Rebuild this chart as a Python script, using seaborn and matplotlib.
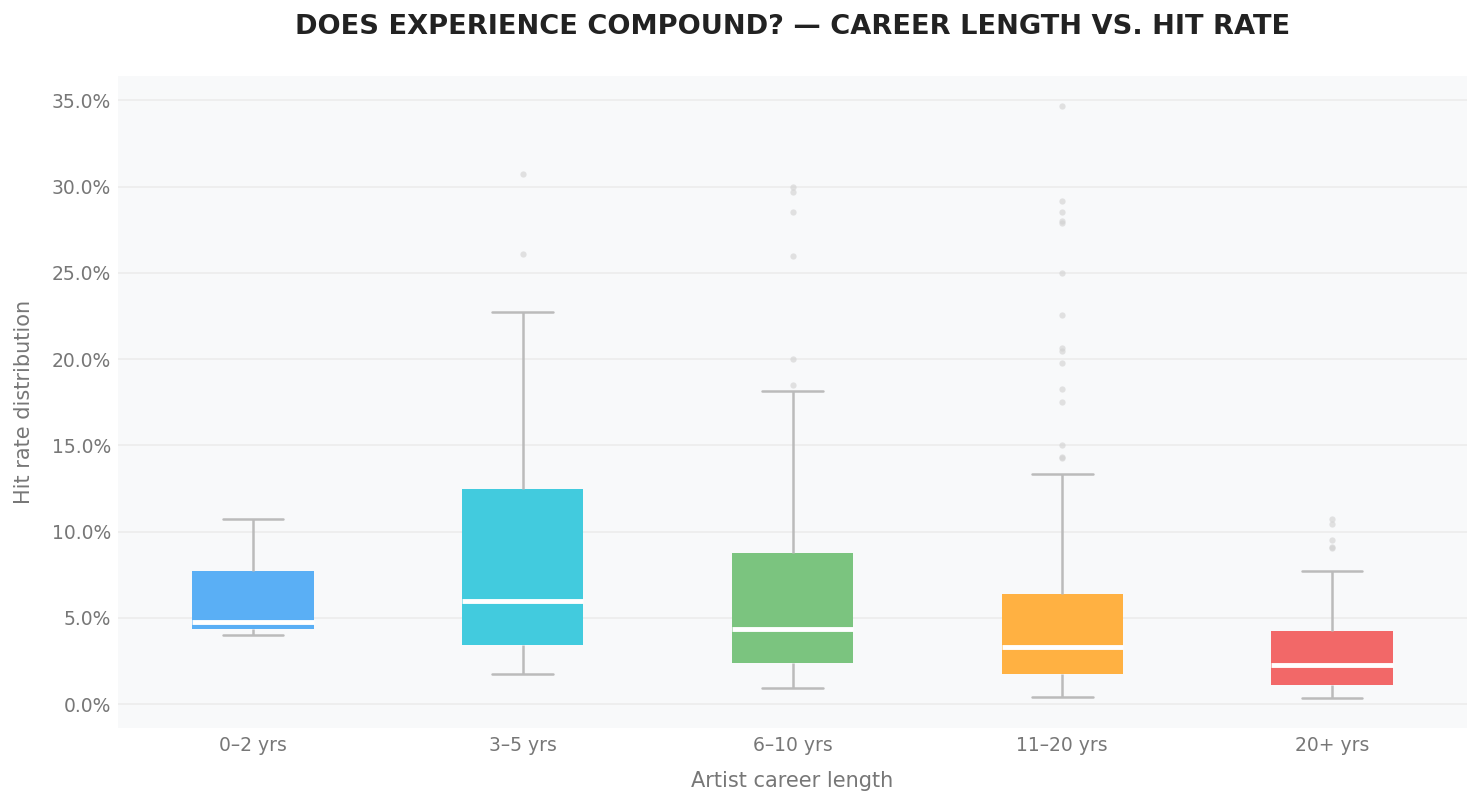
import pandas as pd
import matplotlib.pyplot as plt
import seaborn as sns
from matplotlib.ticker import PercentFormatter

# values (hit rate in %)
CAREER_BINS = ["0–2 yrs", "3–5 yrs", "6–10 yrs", "11–20 yrs", "20+ yrs"]
WHISKER_LOW = [3.98, 1.72, 0.91, 0.39, 0.33]
Q1 = [4.35, 3.44, 2.39, 1.75, 1.12]
MEDIAN = [4.73, 5.95, 4.33, 3.28, 2.29]
Q3 = [7.71, 12.46, 8.75, 6.40, 4.23]
WHISKER_HIGH = [10.70, 22.70, 18.17, 13.31, 7.69]
OUTLIERS = [
    [],
    [26.10, 30.74],
    [18.52, 19.99, 25.99, 28.54, 29.70, 29.99],
    [14.25, 14.32, 14.99, 17.53, 18.29, 19.79, 20.49, 20.64, 22.58,
     25.01, 27.90, 28.00, 28.54, 29.18, 34.69],
    [9.05, 9.10, 9.50, 10.43, 10.72],
]
COLORS = ["#5AAFF5", "#42CBDE", "#7BC47F", "#FFB142", "#F26868"]


def montar_amostras() -> pd.DataFrame:
    # n = 4m+1 points so that the quartiles land exactly on the read values
    linhas = []
    for i, cat in enumerate(CAREER_BINS):
        m = len(OUTLIERS[i]) + 1
        vals = ([WHISKER_LOW[i]] + [Q1[i]] * m + [MEDIAN[i]] * m
                + [Q3[i]] * m + [WHISKER_HIGH[i]] + OUTLIERS[i])
        linhas += [(cat, v) for v in vals]
    return pd.DataFrame(linhas, columns=["career", "hit_rate"])


df = montar_amostras()

sns.set_theme(style="whitegrid")
plt.rcParams["font.family"] = ["DejaVu Sans"]

fig, ax = plt.subplots(figsize=(14.83, 8.07), dpi=100)
fig.subplots_adjust(left=0.0796, right=0.9892, top=0.9058, bottom=0.0979)

line_gray = "#BBBBBB"
sns.boxplot(
    data=df, x="career", y="hit_rate", hue="career", order=CAREER_BINS,
    palette=COLORS, saturation=1, width=0.45, legend=False, ax=ax,
    boxprops={"linewidth": 0, "edgecolor": "none"},
    whiskerprops={"color": line_gray, "linewidth": 1.8},
    capprops={"color": line_gray, "linewidth": 1.8},
    medianprops={"color": "white", "linewidth": 3.5},
    flierprops={"marker": "o", "markersize": 4.5, "markerfacecolor": "#D0D0D0",
                "markeredgecolor": "none", "alpha": 0.6},
)

ax.set_facecolor("#F8F9FA")
for s in ax.spines.values():
    s.set_visible(False)
ax.grid(axis="y", color="#ECECEC", linewidth=1.2)
ax.grid(axis="x", visible=False)
ax.yaxis.set_major_formatter(PercentFormatter(100, decimals=1))
ax.set_yticks([0, 5, 10, 15, 20, 25, 30, 35])
ax.tick_params(axis="both", colors="#777777", labelsize=13.5, length=0)
ax.tick_params(axis="y", pad=5)
ax.tick_params(axis="x", pad=6)

ax.set_title("DOES EXPERIENCE COMPOUND? — CAREER LENGTH VS. HIT RATE",
             fontsize=19.6, fontweight="bold", color="#222222", pad=30)
ax.set_xlabel("Artist career length", fontsize=15, color="#777777", labelpad=11)
ax.set_ylabel("Hit rate distribution", fontsize=15, color="#777777", labelpad=13)

plt.savefig("out.png", dpi=100)
plt.close()
